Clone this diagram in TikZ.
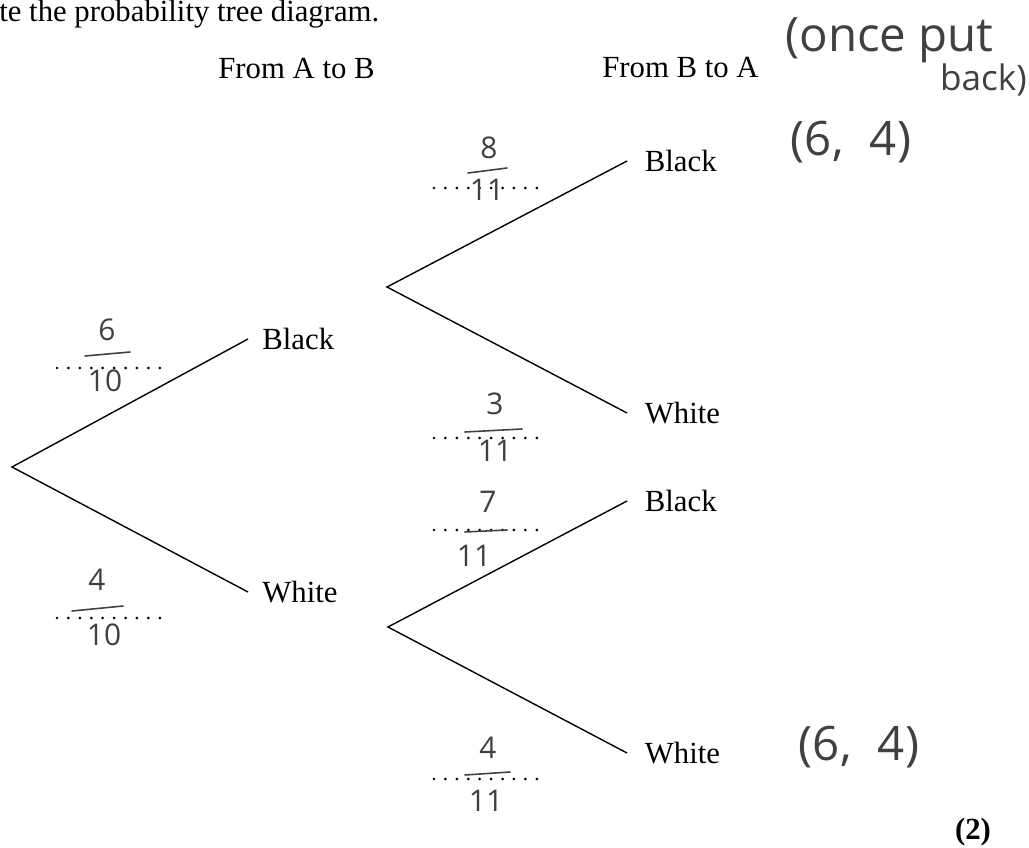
\documentclass[tikz,border=0pt]{standalone}
\usepackage{fontspec}
\setmainfont{Liberation Serif}
\newfontfamily\handfont{Open Sans}
\usetikzlibrary{positioning}

\begin{document}
\begin{tikzpicture}[
  x=0.02cm, y=-0.02cm,
  branch/.style={line width=0.8pt},
  lbl/.style={inner sep=0pt, font=\fontsize{17.5}{21}\selectfont},
  dotline/.style={line width=1.7pt, line cap=round, dash pattern=on 0pt off 6.5pt},
  ink/.style={black!75, line width=0.9pt, line cap=round},
  hand/.style={inner sep=0pt, text=black!75, font=\handfont\fontsize{17}{18}\selectfont},
  bighand/.style={inner sep=0pt, text=black!75, font=\handfont\fontsize{27}{29}\selectfont},
]
\useasboundingbox (0,0) rectangle (1029,848);

% printed text
\node[lbl, anchor=base west] (title) at (-1,22) {te the probability tree diagram.};
\node[lbl, anchor=base west] (headAB) at (218,79) {From A to B};
\node[lbl, anchor=base west] (headBA) at (602,78) {From B to A};
\node[lbl, font=\bfseries\fontsize{17.5}{21}\selectfont] (marks) at (973,832) {(2)};

% tree points
\coordinate (root) at (12,467);
\coordinate (b1) at (248,339);
\coordinate (w1) at (248,592);
\coordinate (fromB) at (387,287);
\coordinate (fromW) at (388,627);
\coordinate (bb) at (627,161);
\coordinate (bw) at (627,413);
\coordinate (wb) at (627,501);
\coordinate (ww) at (627,753);

\draw[branch] (b1) -- (root) -- (w1);
\draw[branch] (bb) -- (fromB) -- (bw);
\draw[branch] (wb) -- (fromW) -- (ww);

\node[lbl, right=8pt of b1, anchor=west] (lb1) {Black};
\node[lbl, right=8pt of w1, anchor=west] (lw1) {White};
\node[lbl, right=10pt of bb, anchor=west] (lbb) {Black};
\node[lbl, right=10pt of bw, anchor=west] (lbw) {White};
\node[lbl, right=10pt of wb, anchor=west] (lwb) {Black};
\node[lbl, right=10pt of ww, anchor=west] (lww) {White};

% printed dotted answer lines
\draw[dotline] (57,368) -- (160,368);
\draw[dotline] (57,618) -- (160,618);
\draw[dotline] (434,188) -- (537,188);
\draw[dotline] (434,438) -- (538,438);
\draw[dotline] (434,530) -- (538,530);
\draw[dotline] (434,779) -- (538,779);

% handwritten fractions
\node[hand] (n1) at (107,330) {6};
\draw[ink] (85,356) -- (130,352);
\node[hand] (d1) at (105,381) {10};

\node[hand] (n2) at (97,580) {4};
\draw[ink] (72,611) -- (123,606);
\node[hand] (d2) at (104,635) {10};

\node[hand] (n3) at (489,148) {8};
\draw[ink] (468,173) -- (507,168);
\node[hand] (d3) at (487,190) {11};

\node[hand] (n4) at (495,404) {3};
\draw[ink] (465,432) -- (522,429);
\node[hand] (d4) at (495,451) {11};

\node[hand] (n5) at (488,502) {7};
\draw[ink] (465,532) -- (507,530);
\node[hand] (d5) at (474,556) {11};

\node[hand] (n6) at (488,748) {4};
\draw[ink] (465,775) -- (510,772);
\node[hand] (d6) at (486,801) {11};

% handwritten notes
\node[bighand, anchor=west] (once) at (785,40) {(once put};
\node[hand, font=\handfont\fontsize{20}{22}\selectfont, anchor=east] (back) at (1027,80) {back)};
\node[bighand] (pairtop) at (851,142) {(6,\;\;4)};
\node[bighand] (pairbot) at (859,747) {(6,\;\;4)};
\end{tikzpicture}
\end{document}
